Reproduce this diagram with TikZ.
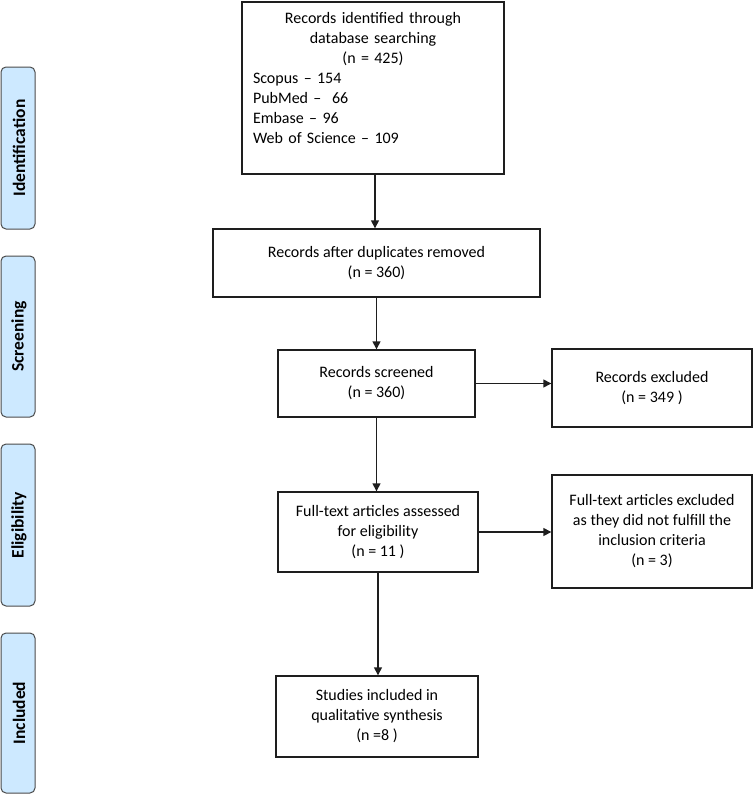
\documentclass[tikz,border=0pt]{standalone}
\usepackage{fontspec}
\setmainfont{Carlito}
\usetikzlibrary{arrows.meta}
\definecolor{stagefill}{RGB}{205,233,255}
\definecolor{linec}{RGB}{30,30,30}
\tikzset{
  x=1pt, y=-1pt,
  box/.style={draw=linec, line width=1.4pt, rectangle, inner sep=2pt, align=center,
    font=\fontsize{16}{20}\selectfont},
  stage/.style={draw=linec!80, line width=1pt, fill=stagefill, rounded corners=5pt,
    minimum width=34pt, inner sep=0pt},
  stagetext/.style={rotate=90, font=\fontsize{17.5}{18}\selectfont\bfseries},
  arr/.style={draw=linec, line width=1.4pt, -{Triangle[length=8pt,width=8pt]}}
}
\begin{document}
\begin{tikzpicture}
\useasboundingbox (0,0) rectangle (754,795);
% stage labels
\node[stage, minimum height=162pt] (s1) at (18,148) {};
\node[stagetext] (s1t) at (19,148) {Identification};
\node[stage, minimum height=161pt] (s2) at (18,336.5) {};
\node[stagetext] (s2t) at (19,336.5) {Screening};
\node[stage, minimum height=162pt] (s3) at (18,525) {};
\node[stagetext] (s3t) at (19,525) {Eligibility};
\node[stage, minimum height=160pt] (s4) at (18,713) {};
\node[stagetext] (s4t) at (19,713) {Included};
% boxes
\node[box, minimum width=262pt, minimum height=172pt] (id) at (373,88) {};
\node[anchor=north, inner sep=0pt, text width=240pt, font=\fontsize{16}{20}\selectfont] (idt) at (373,12)
  {{\centering Records identified through\\ database searching\\ (n = 425)\par}
   {\raggedright Scopus -- 154\\ PubMed --\ \ 66\\ Embase -- 96\\ Web of Science -- 109\par}};
\node[box, minimum width=327pt, minimum height=68pt] (dup) at (376.5,263) {Records after duplicates removed\\ (n = 360)};
\node[box, minimum width=197pt, minimum height=67pt] (scr) at (376.5,383.5) {Records screened\\ (n = 360)};
\node[box, minimum width=200pt, minimum height=78pt] (exc) at (652,388) {Records excluded\\ (n = 349 )};
\node[box, minimum width=200pt, minimum height=80pt] (full) at (378,532) {Full-text articles assessed\\ for eligibility\\ (n = 11 )};
\node[box, minimum width=200pt, minimum height=113pt] (exc2) at (652,531.5) {Full-text articles excluded\\ as they did not fulfill the\\ inclusion criteria\\ (n = 3)};
\node[box, minimum width=202pt, minimum height=81pt] (inc) at (377,716.5) {Studies included in\\ qualitative synthesis\\ (n =8 )};
% arrows
\draw[arr] ([xshift=2pt]id.south) -- ([xshift=2pt]id.south |- dup.north);
\draw[arr] (dup.south) -- (dup.south |- scr.north);
\draw[arr] (scr.south) -- (scr.south |- full.north);
\draw[arr] (scr.east) -- (scr.east -| exc.west);
\draw[arr] (full.east) -- (full.east -| exc2.west);
\draw[arr] (full.south) -- (full.south |- inc.north);
\end{tikzpicture}
\end{document}
